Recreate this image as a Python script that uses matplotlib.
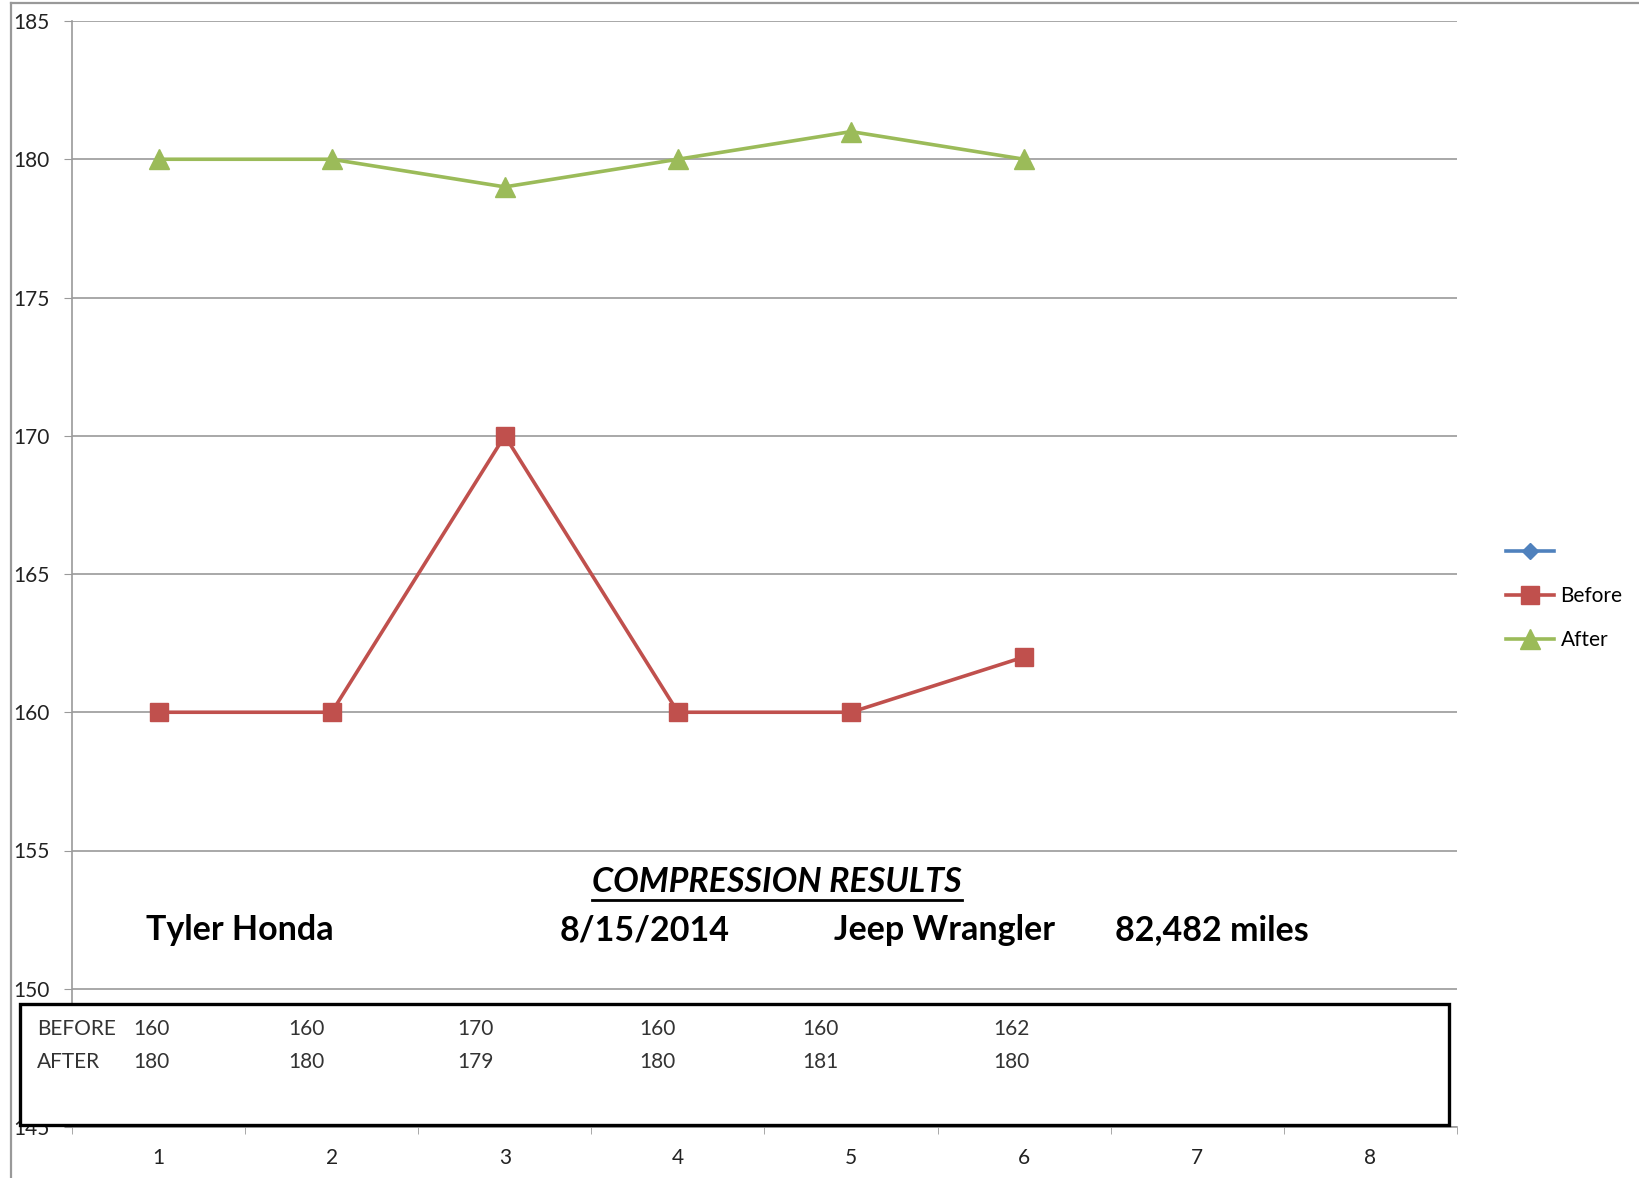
import matplotlib.pyplot as plt
from matplotlib.lines import Line2D
from matplotlib.patches import Rectangle

# dados do teste de compressão
cilindros = [1, 2, 3, 4, 5, 6]
antes = [160, 160, 170, 160, 160, 162]
depois = [180, 180, 179, 180, 181, 180]
serie_vazia = []
categorias = [1, 2, 3, 4, 5, 6, 7, 8]
ticks_y = [145, 150, 155, 160, 165, 170, 175, 180, 185]

W, H = 1640, 1178
plt.rcParams['font.family'] = ['Lato', 'DejaVu Sans']

fig = plt.figure(figsize=(W / 100, H / 100), dpi=100)


def fx(x):
    return x / W


def fy(y):
    return 1 - y / H


cinza = '#9a9a9a'
ax = fig.add_axes([fx(72), fy(1127), fx(1457) - fx(72), fy(21) - fy(1127)])

ax.plot(serie_vazia, serie_vazia, color='#4F81BD', marker='D', lw=2.6,
        markersize=8, label=' ')
ax.plot(cilindros, antes, color='#C0504D', marker='s', lw=2.6,
        markersize=13, label='Before')
ax.plot(cilindros, depois, color='#9BBB59', marker='^', lw=2.6,
        markersize=14, label='After')

ax.set_xlim(0.5, 8.5)
ax.set_ylim(145, 185)
ax.set_yticks(ticks_y)
ax.set_xticks(categorias)
ax.set_xticks([c + 0.5 for c in [0] + categorias], minor=True)
ax.grid(axis='y', color=cinza, lw=1.2)
ax.set_axisbelow(True)
for lado in ['top', 'right']:
    ax.spines[lado].set_visible(False)
for lado in ['left', 'bottom']:
    ax.spines[lado].set_color(cinza)
    ax.spines[lado].set_linewidth(1.2)
ax.tick_params(axis='y', length=6, color=cinza, pad=10, labelsize=15,
               labelcolor='#222222')
ax.tick_params(axis='x', which='major', length=0, pad=15, labelsize=15,
               labelcolor='#222222')
ax.tick_params(axis='x', which='minor', length=5, color=cinza)

ax.legend(loc='center left', bbox_to_anchor=(fx(1498), fy(596)),
          bbox_transform=fig.transFigure, frameon=False, fontsize=15,
          handlelength=2.3, labelspacing=1.15, handletextpad=0.3,
          borderaxespad=0)

# moldura externa
fig.add_artist(Line2D([fx(11), 1], [fy(3), fy(3)], color='#999999', lw=1.6))
fig.add_artist(Line2D([fx(11), fx(11)], [0, fy(3)], color='#999999', lw=1.6))

# textos do título
titulo = fig.text(fx(777), fy(882), 'COMPRESSION RESULTS', ha='center',
                  va='center', fontsize=24.5, fontweight='bold',
                  fontstyle='italic', zorder=6)
for txt, x in [('Tyler Honda', 146), ('8/15/2014', 560),
               ('Jeep Wrangler', 834), ('82,482 miles', 1115)]:
    fig.text(fx(x), fy(930), txt, ha='left', va='center', fontsize=24.5,
             fontweight='bold', zorder=6)

# caixa com a tabela
fig.add_artist(Rectangle((fx(20), fy(1125)), fx(1449) - fx(20),
                         fy(1004) - fy(1125), facecolor='white',
                         edgecolor='black', lw=2.4, zorder=5,
                         transform=fig.transFigure))
fig.text(fx(37), fy(1029), 'BEFORE', ha='left', va='center', fontsize=15,
         color='#333333', zorder=6)
fig.text(fx(37), fy(1062), 'AFTER', ha='left', va='center', fontsize=15,
         color='#333333', zorder=6)
pos_tabela = [133, 288, 457, 639, 802, 993]
for x, a, d in zip(pos_tabela, antes, depois):
    fig.text(fx(x), fy(1029), str(a), ha='left', va='center', fontsize=15,
             color='#333333', zorder=6)
    fig.text(fx(x), fy(1062), str(d), ha='left', va='center', fontsize=15,
             color='#333333', zorder=6)

# sublinhado do título
fig.canvas.draw()
bb = titulo.get_window_extent()
fig.add_artist(Line2D([bb.x0 / W, bb.x1 / W], [(bb.y0 - 2) / H] * 2,
                      color='black', lw=2, zorder=6))

fig.savefig('out.png', dpi=100)
